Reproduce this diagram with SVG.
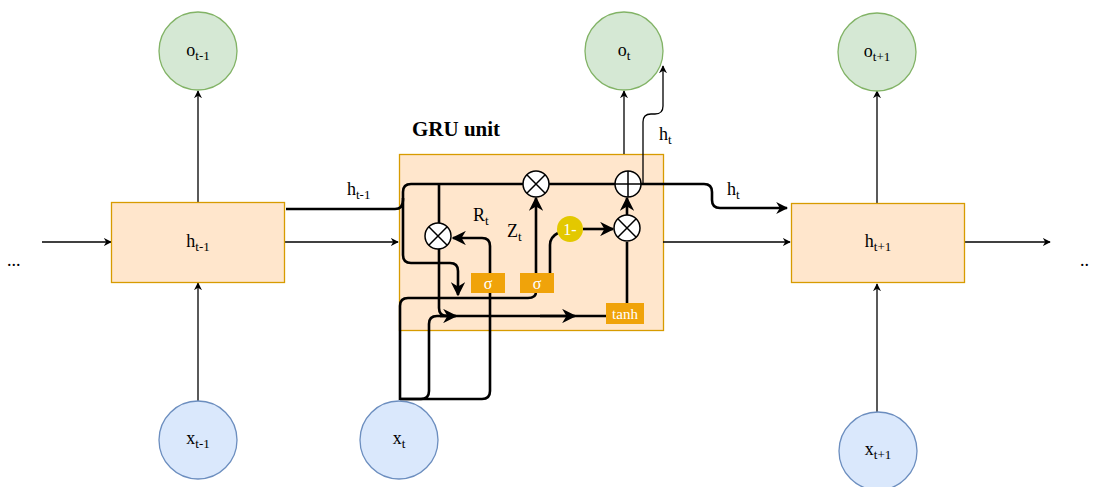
<svg xmlns="http://www.w3.org/2000/svg" width="1094" height="487" viewBox="0 0 1094 487">
<defs>
<marker id="a" viewBox="0 0 10 10" refX="9" refY="5" markerWidth="8" markerHeight="8" markerUnits="userSpaceOnUse" orient="auto"><path d="M0,0 L10,5 L0,10 L3,5 Z" fill="#000"/></marker>
<marker id="ab" viewBox="0 0 10 10" refX="9" refY="5" markerWidth="5.5" markerHeight="5.5" orient="auto"><path d="M0,0 L10,5 L0,10 L3,5 Z" fill="#000"/></marker>
<marker id="at" viewBox="0 0 10 10" refX="9" refY="5" markerWidth="12" markerHeight="12" markerUnits="userSpaceOnUse" orient="auto"><path d="M0,0 L10,5 L0,10 L3,5 Z" fill="#000"/></marker>
</defs>
<style>
.t{font-family:"Liberation Serif",serif;font-size:18px;fill:#000}
.s{font-size:13px}
.g{fill:#d5e8d4;stroke:#82b366;stroke-width:1.3}
.b{fill:#dae8fc;stroke:#6c8ebf;stroke-width:1.3}
.o{fill:#ffe6cc;stroke:#d79b00;stroke-width:1.3}
.th{fill:none;stroke:#000;stroke-width:1.3}
.tk{fill:none;stroke:#000;stroke-width:2.6}
.op{fill:#fff;stroke:#000;stroke-width:1.5}
.gate{fill:#f0a30a;stroke:none}
.w{font-family:"Liberation Serif",serif;fill:#fff;font-size:16px}
</style>
<rect width="1094" height="487" fill="#fff"/>
<g id="gru">
<rect class="o" x="399.5" y="154.5" width="264" height="176"/>
<text x="412" y="136" style="font-family:'Liberation Serif',serif;font-weight:bold;font-size:21px">GRU unit</text>
</g>
<g id="connectors">
<path class="th" d="M42,242 L111,242" marker-end="url(#a)"/>
<path class="th" d="M198,202 L198,91" marker-end="url(#a)"/>
<path class="th" d="M198,401 L198,283" marker-end="url(#a)"/>
<path class="th" d="M285,242 L398,242" marker-end="url(#a)"/>
<path class="th" d="M624,154 L624,91" marker-end="url(#a)"/>
<path class="th" d="M663,242 L790,242" marker-end="url(#a)"/>
<path class="th" d="M877,203 L877,91" marker-end="url(#a)"/>
<path class="th" d="M877,412 L877,284" marker-end="url(#a)"/>
<path class="th" d="M965,242 L1050,242" marker-end="url(#a)"/>
<path class="th" d="M643,184 L643,122 Q643,114 651,114 L655,114 Q663,114 663,106 L663,66" marker-end="url(#a)"/>
<path class="tk" d="M286,209 L395,209 Q403,209 403,200 L403,192 Q403,184 411,184 L523,184"/>
<path class="tk" d="M403,198 L403,255 Q403,263 411,263 L450,263 Q458,263 458,271 L458,295" marker-end="url(#ab)"/>
<path class="tk" d="M439,184 L439,223"/>
<path class="tk" d="M549,184 L615,184"/>
<path class="tk" d="M641,184 L704,184 Q712,184 712,192 L712,200 Q712,208 720,208 L787,208" marker-end="url(#at)"/>
<path class="tk" d="M439,249 L439,308 Q439,316 447,316 L606,316"/>
<path class="tk" d="M440,316 L456,316" marker-end="url(#ab)"/>
<path class="tk" d="M540,316 L575,316" marker-end="url(#ab)"/>
<path class="tk" d="M400,400 L400,306 Q400,298 408,298 L528,298 Q536,298 536,292"/>
<path class="tk" d="M400,399 L421,399 Q429,399 429,391 L429,324 Q429,316 437,316 L450,316"/>
<path class="tk" d="M400,399 L482,399 Q490,399 490,391 L490,246 Q490,238 482,238 L453,238" marker-end="url(#ab)"/>
<path class="tk" d="M536,273 L536,198" marker-end="url(#ab)"/>
<path class="tk" d="M550,273 L550,245 Q550,237 558,233"/>
<path class="tk" d="M583,229 L613,229" marker-end="url(#ab)"/>
<path class="tk" d="M627,303 L627,242"/>
<path class="tk" d="M627,215 L627,198" marker-end="url(#ab)"/>
</g>
<g id="ops">
<g id="mul_r"><circle class="op" cx="438" cy="236" r="13"/><path d="M428.8,226.8 L447.2,245.2 M447.2,226.8 L428.8,245.2" stroke="#000" stroke-width="1.5"/></g>
<g id="mul_z"><circle class="op" cx="536" cy="184" r="13"/><path d="M526.8,174.8 L545.2,193.2 M545.2,174.8 L526.8,193.2" stroke="#000" stroke-width="1.5"/></g>
<g id="mul_h"><circle class="op" cx="627" cy="228" r="13"/><path d="M617.8,218.8 L636.2,237.2 M636.2,218.8 L617.8,237.2" stroke="#000" stroke-width="1.5"/></g>
<g id="add"><circle class="op" cx="628" cy="184" r="13"/><path d="M615,184 L641,184 M628,171 L628,197" stroke="#000" stroke-width="1.5"/></g>
<g id="one_minus"><circle cx="570" cy="229" r="13" fill="#e3c800"/><text class="w" x="570" y="235" text-anchor="middle">1-</text></g>
<g id="sigma_r"><rect class="gate" x="471" y="273" width="34" height="20"/><text class="w" x="488" y="289" text-anchor="middle">σ</text></g>
<g id="sigma_z"><rect class="gate" x="520" y="273" width="34" height="20"/><text class="w" x="537" y="289" text-anchor="middle">σ</text></g>
<g id="tanh"><rect class="gate" x="606" y="303" width="38" height="21"/><text class="w" x="625" y="319" text-anchor="middle" style="font-size:15px">tanh</text></g>
</g>
<g id="labels">
<text class="t" x="347" y="195">h<tspan class="s" dy="4">t-1</tspan></text>
<text class="t" x="473" y="221">R<tspan class="s" dy="4">t</tspan></text>
<text class="t" x="507" y="237">Z<tspan class="s" dy="4">t</tspan></text>
<text class="t" x="659" y="140">h<tspan class="s" dy="4">t</tspan></text>
<text class="t" x="727" y="195">h<tspan class="s" dy="4">t</tspan></text>
<text class="t" x="7" y="266">...</text>
<text class="t" x="1080" y="266">..</text>
</g>
<g id="o_prev"><circle class="g" cx="198" cy="51" r="39"/><text class="t" x="198" y="56" text-anchor="middle">o<tspan class="s" dy="4">t-1</tspan></text></g>
<g id="o_t"><circle class="g" cx="624" cy="51" r="39"/><text class="t" x="624" y="56" text-anchor="middle">o<tspan class="s" dy="4">t</tspan></text></g>
<g id="o_next"><circle class="g" cx="877" cy="52" r="39"/><text class="t" x="877" y="57" text-anchor="middle">o<tspan class="s" dy="4">t+1</tspan></text></g>
<g id="h_prev"><rect class="o" x="111.5" y="202.5" width="173" height="80"/><text class="t" x="198" y="247" text-anchor="middle">h<tspan class="s" dy="4">t-1</tspan></text></g>
<g id="h_next"><rect class="o" x="791.5" y="203.5" width="173" height="79"/><text class="t" x="878" y="247" text-anchor="middle">h<tspan class="s" dy="4">t+1</tspan></text></g>
<g id="x_prev"><circle class="b" cx="198" cy="440" r="39"/><text class="t" x="198" y="444" text-anchor="middle">x<tspan class="s" dy="4">t-1</tspan></text></g>
<g id="x_t"><circle class="b" cx="399" cy="440" r="39"/><text class="t" x="399" y="444" text-anchor="middle">x<tspan class="s" dy="4">t</tspan></text></g>
<g id="x_next"><circle class="b" cx="878" cy="451" r="39"/><text class="t" x="878" y="455" text-anchor="middle">x<tspan class="s" dy="4">t+1</tspan></text></g>
</svg>
